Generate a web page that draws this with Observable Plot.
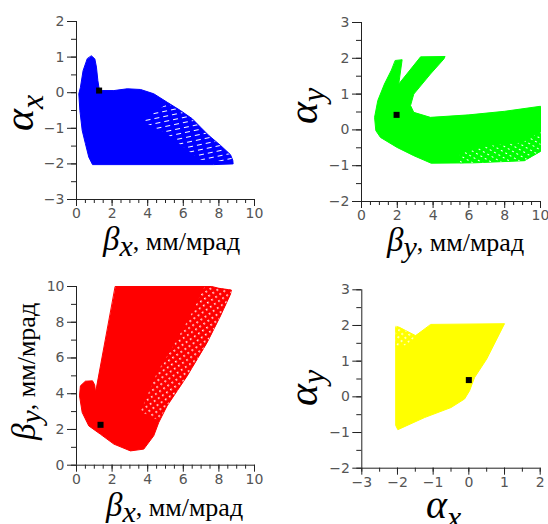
<!DOCTYPE html>
<html><head><meta charset="utf-8">
<script src="https://cdn.jsdelivr.net/npm/d3@7"></script>
<script src="https://cdn.jsdelivr.net/npm/@observablehq/plot@0.6"></script>
<style>
body{margin:0;background:#fff;}
#wrap{position:relative;width:548px;height:524px;overflow:hidden;background:#fff;}
#wrap > div, #wrap > svg{position:absolute;}
</style></head><body><div id="wrap"></div>
<script>
// ---------- data (outlines of the point clouds) ----------
// Panel 1: beta_x (x) vs alpha_x (y)
const bxAxOutline = [[0.85,1.03],[1.03,0.95],[1.12,0.72],[1.2,0.34],[1.27,0.12],[1.44,0.06],[2.1,0.06],[2.85,0.11],[3.6,0.09],[4.34,-0.03],[5.1,-0.27],[5.84,-0.5],[6.5,-0.73],[6.97,-0.97],[7.43,-1.2],[8.09,-1.48],[8.65,-1.74],[8.78,-1.9],[8.8,-2.0],[7.7,-2.02],[0.9,-2.02],[0.69,-1.81],[0.5,-1.43],[0.32,-1.06],[0.19,-0.5],[0.13,-0.03],[0.22,0.15],[0.37,0.62],[0.6,0.95]];
const bxAxTexture = [[3.7,-0.8],[5.1,-0.3],[5.84,-0.52],[6.5,-0.75],[7.43,-1.22],[8.09,-1.5],[8.65,-1.76],[8.78,-1.95],[7.0,-1.88],[6.2,-1.6],[5.1,-1.16]];
const bxAxPoint = [[1.27,0.06]];
// Panel 2: beta_y (x) vs alpha_y (y)
const byAyOutline = [[1.9,1.94],[2.27,1.96],[2.08,1.28],[3.3,2.04],[4.67,2.05],[4.6,1.98],[3.85,1.56],[2.92,1.0],[2.74,0.68],[2.92,0.49],[3.85,0.35],[6.0,0.42],[8.0,0.52],[10.0,0.66],[10.0,-0.6],[9.1,-0.86],[6.3,-0.92],[3.89,-0.93],[2.92,-0.72],[1.99,-0.49],[1.06,-0.21],[0.8,-0.02],[0.73,0.35],[0.91,0.82],[1.28,1.28],[1.66,1.66]];
const byAyTexture = [[5.5,-0.93],[9.1,-0.86],[10.0,-0.6],[10.0,-0.05],[9.0,-0.35],[7.0,-0.45],[5.5,-0.65]];
const byAyPoint = [[1.96,0.42]];
// Panel 3: beta_x (x) vs beta_y (y)
const bxByOutline = [[2.19,10.0],[7.6,10.0],[8.0,9.9],[8.7,9.8],[8.65,9.57],[8.09,8.36],[7.34,6.87],[6.22,5.0],[5.09,3.32],[4.62,2.39],[4.34,1.65],[3.78,0.9],[3.03,0.8],[2.1,1.18],[1.35,1.73],[0.69,2.2],[0.32,2.95],[0.17,3.88],[0.22,4.44],[0.5,4.7],[0.9,4.72],[1.02,4.5],[1.07,4.1]];
const bxByTexture = [[3.6,3.0],[4.53,5.19],[5.66,7.05],[6.59,8.73],[7.2,10.0],[8.0,9.9],[8.7,9.8],[8.65,9.57],[8.09,8.36],[7.34,6.87],[6.22,5.0],[5.09,3.32],[4.62,2.5]];
const bxByPoint = [[1.35,2.26]];
// Panel 4: alpha_x (x) vs alpha_y (y)
const axAyOutline = [[-1.06,2.03],[1.0,2.05],[0.5,1.06],[0.16,0.54],[0.02,0.17],[-0.12,-0.06],[-0.5,-0.3],[-1.24,-0.58],[-1.99,-0.92],[-2.05,-0.8],[-2.05,1.97],[-1.95,1.95],[-1.5,1.72]];
const axAyTexture = [[-2.05,2.0],[-1.85,1.9],[-1.5,1.68],[-1.75,1.45],[-2.05,1.4]];
const axAyPoint = [[0.0,0.47]];

// ticks
const ticks0to10 = [0,2,4,6,8,10];
const ticksM3to2 = [-3,-2,-1,0,1,2];
const ticksM2to3 = [-2,-1,0,1,2,3];

// ---------- drawing ----------
const wrap = document.getElementById("wrap");
const range = (a,b,s) => d3.range(a, b + s/2, s);
const fmt = d => d < 0 ? "\u2212" + Math.abs(d) : String(d);

function panel(o) {
  const chart = Plot.plot({
    width: 274, height: 262,
    marginLeft: o.mL, marginRight: o.mR, marginTop: o.mT, marginBottom: o.mB,
    x: {domain: o.xDomain}, y: {domain: o.yDomain},
    style: {fontFamily: "'DejaVu Sans', sans-serif", fontSize: "14px", color: "#555", background: "transparent", overflow: "visible"},
    marks: [
      Plot.line(o.outline, {x: d => d[0], y: d => d[1], curve: "linear-closed", fill: o.color, stroke: o.color, strokeWidth: 1}),
      Plot.line(o.texture, {x: d => d[0], y: d => d[1], curve: "linear-closed", fill: o.pattern, stroke: "none"}),
      Plot.dot(o.point, {x: d => d[0], y: d => d[1], symbol: "square", r: 3.4, fill: "#000", stroke: "none"}),
      Plot.axisX({ticks: o.xMinor, tickSize: 4, tickFormat: () => "", label: null, stroke: "#222"}),
      Plot.axisX({ticks: o.xTicks, tickSize: 7, tickPadding: 2, tickFormat: fmt, label: null, stroke: "#222"}),
      Plot.axisY({ticks: o.yMinor, tickSize: 5, tickFormat: () => "", label: null, stroke: "#222"}),
      Plot.axisY({ticks: o.yTicks, tickSize: 9, tickPadding: 3, tickFormat: fmt, label: null, stroke: "#222"}),
      Plot.ruleY([o.yDomain[0]], {stroke: "#222"}),
      Plot.ruleX([o.xDomain[0]], {stroke: "#222"})
    ]
  });
  const div = document.createElement("div");
  div.style.left = o.left + "px"; div.style.top = o.top + "px";
  div.appendChild(chart);
  wrap.appendChild(div);
}

panel({left: 0, top: 0, mL: 76, mR: 20, mT: 21, mB: 63,
  xDomain: [0,10], yDomain: [-3,2], xTicks: ticks0to10, yTicks: ticksM3to2,
  xMinor: range(0,10,0.5), yMinor: range(-3,2,0.5),
  outline: bxAxOutline, texture: bxAxTexture, point: bxAxPoint, color: "#0000ff", pattern: "url(#pb)"});
panel({left: 274, top: 0, mL: 87, mR: 8, mT: 22, mB: 61,
  xDomain: [0,10], yDomain: [-2,3], xTicks: ticks0to10, yTicks: ticksM2to3,
  xMinor: range(0,10,0.5), yMinor: range(-2,3,0.5),
  outline: byAyOutline, texture: byAyTexture, point: byAyPoint, color: "#00ff00", pattern: "url(#pg)"});
panel({left: 0, top: 262, mL: 76, mR: 20, mT: 24, mB: 59.3,
  xDomain: [0,10], yDomain: [0,10], xTicks: ticks0to10, yTicks: ticks0to10,
  xMinor: range(0,10,0.5), yMinor: range(0,10,1),
  outline: bxByOutline, texture: bxByTexture, point: bxByPoint, color: "#ff0000", pattern: "url(#pr)"});
panel({left: 274, top: 262, mL: 87.3, mR: 8.3, mT: 27.3, mB: 56.3,
  xDomain: [-3,2], yDomain: [-2,3], xTicks: ticksM3to2, yTicks: ticksM2to3,
  xMinor: range(-3,2,0.5), yMinor: range(-2,3,0.5),
  outline: axAyOutline, texture: axAyTexture, point: axAyPoint, color: "#ffff00", pattern: "url(#py)"});

// ---------- overlay: patterns and axis titles ----------
const ov = d3.select(wrap).append("svg").attr("width", 548).attr("height", 524)
  .style("left", "0px").style("top", "0px").style("pointer-events", "none");
ov.append("defs").html(`
  <pattern id="pb" width="9" height="5" patternUnits="userSpaceOnUse" patternTransform="rotate(-12)">
    <rect width="9" height="5" fill="#0000ff"/><rect x="0" y="2" width="5" height="1" fill="#fff"/></pattern>
  <pattern id="pg" width="5" height="5" patternUnits="userSpaceOnUse" patternTransform="rotate(30)">
    <rect width="5" height="5" fill="#00ff00"/><rect x="1" y="1" width="2" height="1" fill="#fff"/></pattern>
  <pattern id="pr" width="5" height="5" patternUnits="userSpaceOnUse" patternTransform="rotate(-35)">
    <rect width="5" height="5" fill="#ff0000"/><rect x="1" y="1" width="1.6" height="1.6" fill="#fff"/></pattern>
  <pattern id="py" width="5" height="5" patternUnits="userSpaceOnUse" patternTransform="rotate(-40)">
    <rect width="5" height="5" fill="#ffff00"/><rect x="1" y="1" width="1.6" height="1.6" fill="#fff"/></pattern>
`);
function title(x, y, rot, parts) {
  const t = ov.append("text").attr("transform", `translate(${x},${y}) rotate(${rot})`)
    .attr("fill", "#000").style("font-family", "'Liberation Serif','Times New Roman',serif");
  for (const p of parts) {
    t.append("tspan").text(p.t).attr("dy", p.dy || 0)
      .style("font-size", p.s + "px").style("font-style", p.i ? "italic" : "normal");
  }
}
const unit = ", мм/мрад";
title(103, 250, 0, [{t: "β", s: 33, i: true}, {t: "x", s: 30, i: true, dy: 6}, {t: unit, s: 26, dy: -6}]);
title(387, 251, 0, [{t: "β", s: 33, i: true}, {t: "y", s: 30, i: true, dy: 6}, {t: unit, s: 26, dy: -6}]);
title(106, 516, 0, [{t: "β", s: 33, i: true}, {t: "x", s: 30, i: true, dy: 6}, {t: unit, s: 26, dy: -6}]);
title(426, 518, 0, [{t: "α", s: 40, i: true}, {t: "x", s: 32, i: true, dy: 10}]);
title(33, 131, -90, [{t: "α", s: 42, i: true}, {t: "x", s: 32, i: true, dy: 10}]);
title(317, 124, -90, [{t: "α", s: 42, i: true}, {t: "y", s: 32, i: true, dy: 7}]);
title(317, 406, -90, [{t: "α", s: 42, i: true}, {t: "y", s: 32, i: true, dy: 7}]);
title(35, 440, -90, [{t: "β", s: 33, i: true}, {t: "y", s: 30, i: true, dy: 6}, {t: unit, s: 26, dy: -6}]);
</script></body></html>
